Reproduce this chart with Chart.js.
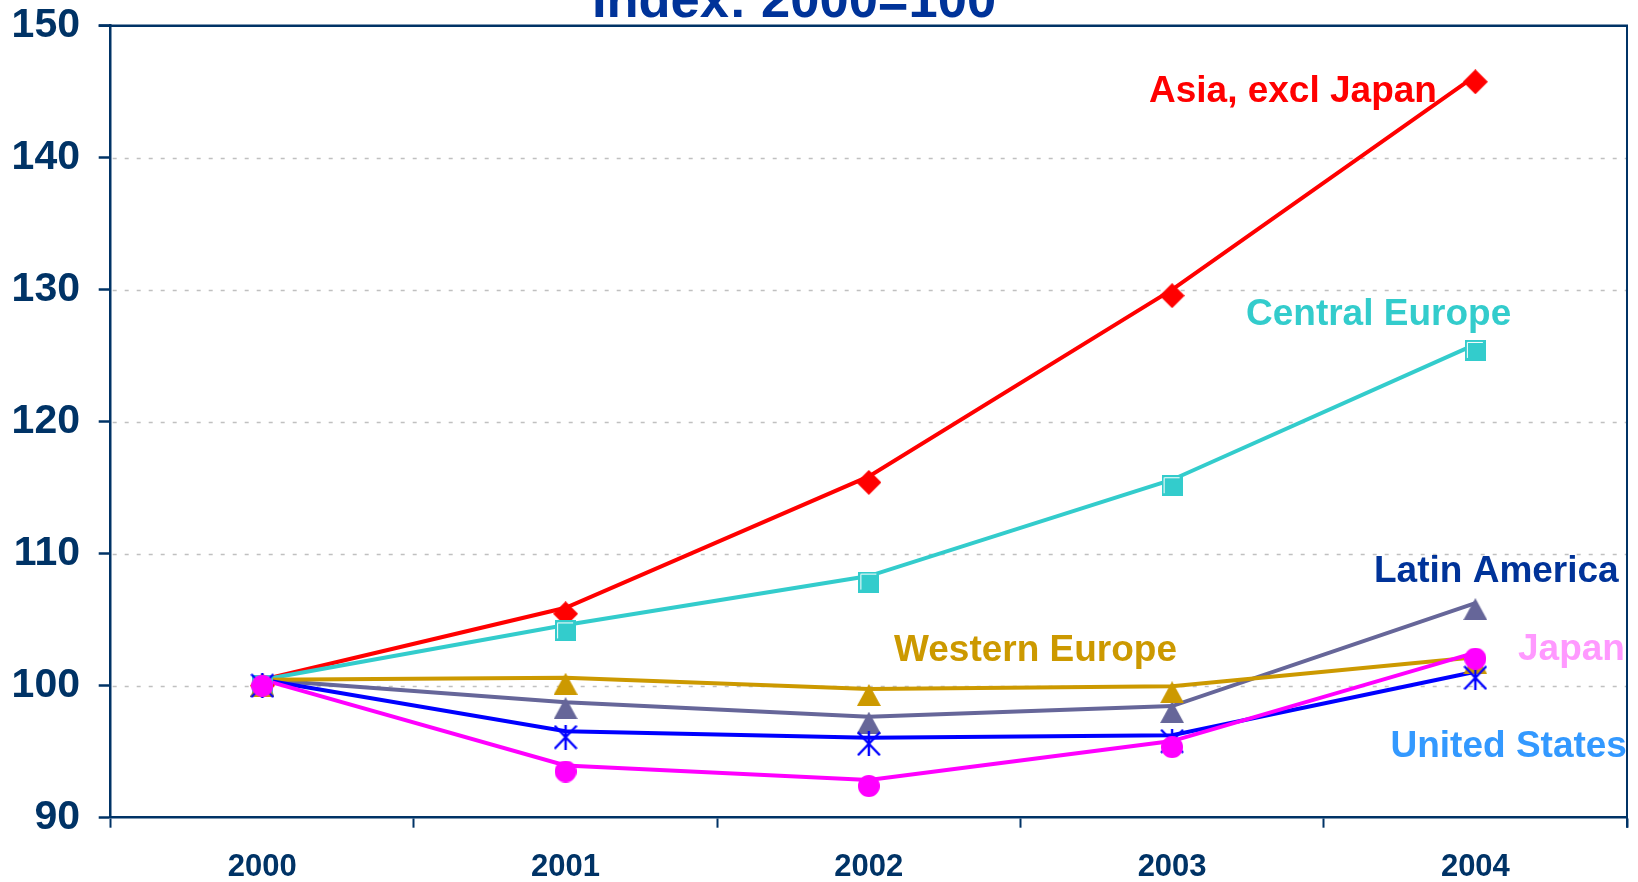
<!DOCTYPE html>
<html>
<head>
<meta charset="utf-8">
<script src="https://cdn.jsdelivr.net/npm/chart.js@4/dist/chart.umd.min.js"></script>
<style>
  html, body { margin: 0; padding: 0; background: #ffffff; }
  #wrap { width: 1638px; height: 882px; position: relative; }
</style>
</head>
<body>
<div id="wrap"><canvas id="c" width="1638" height="882"></canvas></div>
<script>
// ---- data ----
const categories = ['2000', '2001', '2002', '2003', '2004'];
const asiaExJapan   = [100, 105.45, 115.4, 129.55, 145.75];
const centralEurope = [100, 104.15, 107.85, 115.15, 125.4];
const westernEurope = [100, 100.15, 99.3, 99.5, 101.7];
const latinAmerica  = [100, 98.3, 97.2, 98.0, 105.8];
const unitedStates  = [100, 96.1, 95.6, 95.8, 100.6];
const japan         = [100, 93.5, 92.4, 95.35, 102.05];
const yTickValues   = [90, 100, 110, 120, 130, 140, 150];
const seriesNames   = ['Asia, excl Japan', 'Central Europe', 'Latin America', 'Western Europe', 'Japan', 'United States'];
const chartTitle    = 'Index: 2000=100';

// ---- styles ----
const FONT = '"Liberation Sans", Arial, Helvetica, sans-serif';
const NAVY = '#003366';

function makeMarker(kind, color, w, h) {
  const c = document.createElement('canvas');
  c.width = w; c.height = h;
  const g = c.getContext('2d');
  g.fillStyle = color; g.strokeStyle = color;
  if (kind === 'diamond') {
    g.beginPath(); g.moveTo(w / 2, 0); g.lineTo(w, h / 2); g.lineTo(w / 2, h); g.lineTo(0, h / 2); g.closePath(); g.fill();
  } else if (kind === 'square') {
    g.fillRect(0, 0, w, h);
    g.strokeStyle = '#ffffff'; g.lineWidth = 1;
    g.beginPath(); g.moveTo(2.5, h - 3); g.lineTo(2.5, 2.5); g.lineTo(w - 3, 2.5); g.stroke();
  } else if (kind === 'triangle') {
    g.beginPath(); g.moveTo(w / 2, 0); g.lineTo(w, h); g.lineTo(0, h); g.closePath(); g.fill();
  } else if (kind === 'circle') {
    g.beginPath(); g.arc(w / 2, h / 2, Math.min(w, h) / 2, 0, Math.PI * 2); g.fill();
  } else if (kind === 'asterisk') {
    g.lineWidth = 2.4;
    g.beginPath();
    g.moveTo(1, 1); g.lineTo(w - 1, h - 1);
    g.moveTo(w - 1, 1); g.lineTo(1, h - 1);
    g.moveTo(w / 2, 0); g.lineTo(w / 2, h);
    g.stroke();
  }
  return c;
}

const seriesStyle = [
  { data: asiaExJapan,   line: '#FF0000', marker: makeMarker('diamond', '#FF0000', 25, 25) },
  { data: centralEurope, line: '#33CCCC', marker: makeMarker('square', '#33CCCC', 21, 21) },
  { data: latinAmerica,  line: '#666699', marker: makeMarker('triangle', '#666699', 24, 22) },
  { data: westernEurope, line: '#CC9900', marker: makeMarker('triangle', '#CC9900', 24, 22) },
  { data: japan,         line: '#FF00FF', marker: makeMarker('circle', '#FF00FF', 22, 22) },
  { data: unitedStates,  line: '#0000FF', marker: makeMarker('asterisk', '#0000FF', 24, 25) }
];
// top-most first (lower order drawn on top)
const stackRank = [5, 4, 3, 2, 0, 1];

const labelStyle = [
  { color: '#FF0000', x: 1149, y: 101.5 },
  { color: '#33CCCC', x: 1246, y: 325 },
  { color: '#003399', x: 1374, y: 581.5 },
  { color: '#CC9900', x: 894,  y: 661 },
  { color: '#FF99FF', x: 1518, y: 660 },
  { color: '#3399FF', x: 1390.5, y: 756.5 }
];

const datasets = [];
seriesStyle.forEach((s, i) => {
  datasets.push({
    label: seriesNames[i] + ' line', data: s.data, isLine: true,
    borderColor: s.line, backgroundColor: s.line, borderWidth: 4,
    pointRadius: 0, tension: 0, fill: false, clip: false,
    order: 10 + stackRank[i]
  });
  datasets.push({
    label: seriesNames[i], data: s.data, showLine: false,
    pointStyle: s.marker, pointRadius: 10, pointHoverRadius: 10,
    borderColor: s.line, backgroundColor: s.line, clip: false,
    order: stackRank[i]
  });
});

const lineShift = {
  id: 'lineShift',
  beforeDatasetDraw(chart, args) {
    if (chart.data.datasets[args.index].isLine) { chart.ctx.save(); chart.ctx.translate(0, -6); }
  },
  afterDatasetDraw(chart, args) {
    if (chart.data.datasets[args.index].isLine) chart.ctx.restore();
  }
};

const frame = {
  id: 'frame',
  beforeDatasetsDraw(chart) {
    const { ctx, chartArea: a, scales: { y } } = chart;
    ctx.save();
    ctx.strokeStyle = '#C0C0C0'; ctx.lineWidth = 1.5; ctx.setLineDash([4, 8]);
    yTickValues.slice(1, -1).forEach(v => {
      const py = Math.round(y.getPixelForValue(v)) + 0.5;
      ctx.beginPath(); ctx.moveTo(a.left + 2, py); ctx.lineTo(a.right, py); ctx.stroke();
    });
    ctx.setLineDash([]);
    ctx.strokeStyle = NAVY;
    ctx.lineWidth = 2.5;
    ctx.beginPath(); ctx.moveTo(a.left - 12, a.top); ctx.lineTo(a.right + 1, a.top); ctx.stroke();
    ctx.lineWidth = 2;
    ctx.beginPath(); ctx.moveTo(a.right, a.top); ctx.lineTo(a.right, a.bottom + 10); ctx.stroke();
    ctx.restore();
  },
  afterDraw(chart) {
    const ctx = chart.ctx;
    ctx.save();
    ctx.textBaseline = 'alphabetic';
    ctx.textAlign = 'center';
    ctx.fillStyle = '#003399';
    ctx.font = 'bold 52.5px ' + FONT;
    ctx.fillText(chartTitle, 794, 17);
    ctx.textAlign = 'left';
    ctx.font = 'bold 37px ' + FONT;
    seriesNames.forEach((n, i) => {
      const s = labelStyle[i];
      ctx.fillStyle = s.color;
      ctx.fillText(n, s.x, s.y);
    });
    ctx.restore();
  }
};

new Chart(document.getElementById('c'), {
  type: 'line',
  data: { labels: categories, datasets },
  options: {
    responsive: false,
    animation: false,
    events: [],
    layout: { padding: { left: 0, right: 9.5, top: 25.7, bottom: 0 } },
    plugins: { legend: { display: false }, tooltip: { enabled: false }, title: { display: false } },
    scales: {
      x: {
        type: 'category',
        offset: true,
        grid: { offset: true, drawOnChartArea: false, drawTicks: true, tickLength: 10, tickWidth: 2, tickColor: NAVY, color: NAVY },
        border: { display: true, color: NAVY, width: 2.5 },
        ticks: { color: NAVY, font: { family: FONT, size: 31, weight: 'bold' }, padding: 21, maxRotation: 0 },
        afterFit(s) { s.height = 64.3; s.paddingLeft = 0; s.paddingRight = 0; }
      },
      y: {
        min: yTickValues[0], max: yTickValues[yTickValues.length - 1],
        afterBuildTicks(s) { s.ticks = yTickValues.map(v => ({ value: v })); },
        grid: { drawOnChartArea: false, drawTicks: true, tickLength: 12, tickWidth: 2.5, tickColor: NAVY, color: NAVY },
        border: { display: true, color: NAVY, width: 2.5 },
        ticks: { color: NAVY, font: { family: FONT, size: 41, weight: 'bold' }, padding: 18.7 },
        afterFit(s) { s.width = 110.7; s.paddingTop = 0; s.paddingBottom = 0; }
      }
    }
  },
  plugins: [lineShift, frame]
});
</script>
</body>
</html>
